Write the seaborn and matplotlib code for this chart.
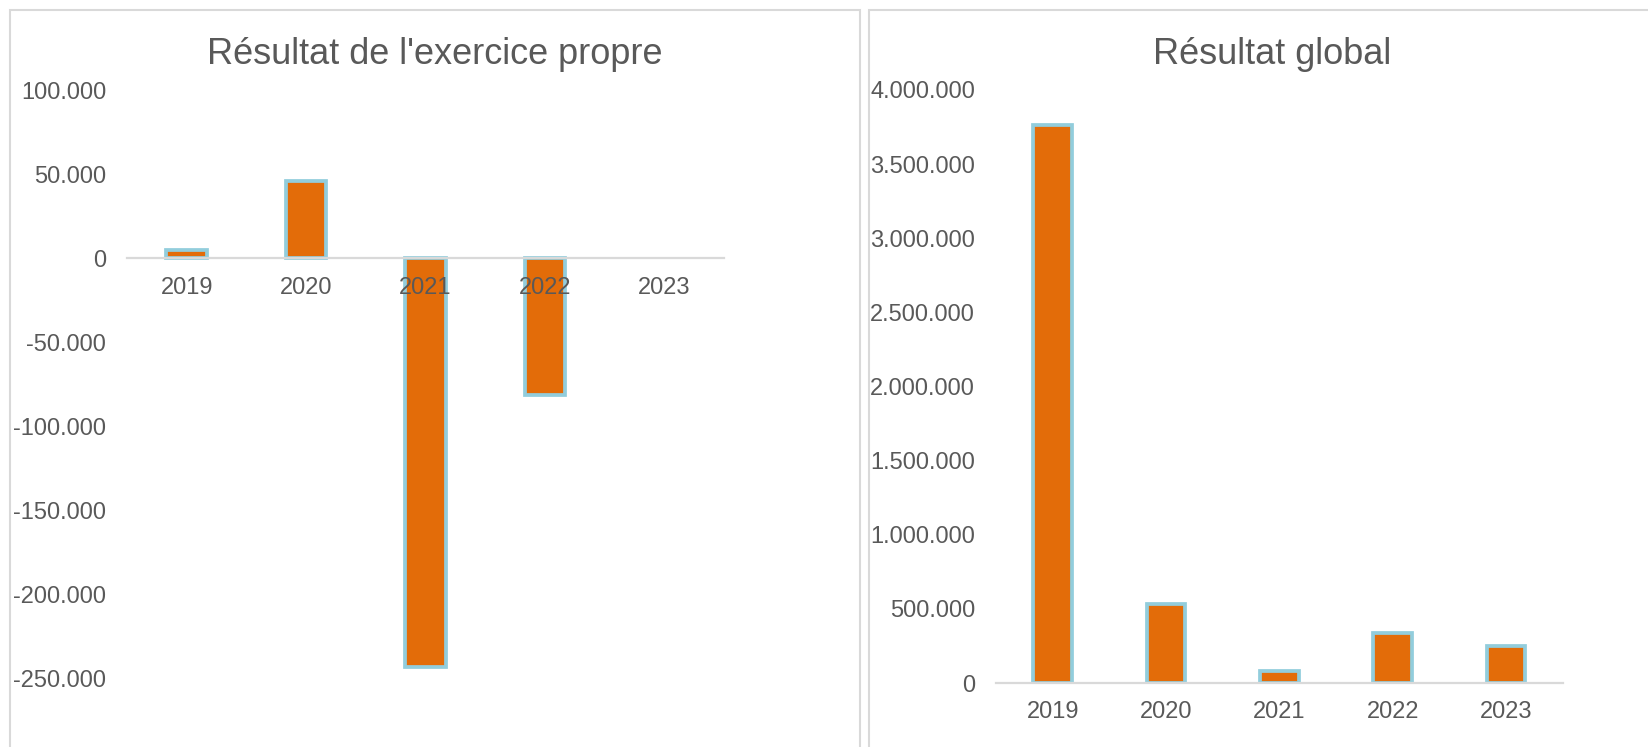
import pandas as pd
import numpy as np
import matplotlib
matplotlib.use("Agg")
import matplotlib.pyplot as plt
from matplotlib.patches import Rectangle
from matplotlib.ticker import FuncFormatter
import seaborn as sns

# Data
years = ["2019", "2020", "2021", "2022", "2023"]
resultat_propre = [5000, 46000, -243000, -81000, np.nan]
resultat_global = [3765000, 530000, 78000, 340000, 250000]

title_left = "Résultat de l'exercice propre"
title_right = "Résultat global"

FILL = "#E36C09"
EDGE = "#92CDDC"
TEXT = "#595959"
GRID = "#D9D9D9"

sns.set_theme(style="white")
plt.rcParams["font.family"] = ["Liberation Sans", "DejaVu Sans"]

W, H = 1649, 747
fig = plt.figure(figsize=(W / 100, H / 100), dpi=100)


def px_axes(x0, x1, y_top, y_bot):
    return fig.add_axes([x0 / W, 1 - y_bot / H, (x1 - x0) / W, (y_bot - y_top) / H])


def thousands(v, pos):
    return f"{int(round(v)):,}".replace(",", ".")


def style(ax):
    for s in ["top", "right", "left"]:
        ax.spines[s].set_visible(False)
    ax.spines["bottom"].set_color(GRID)
    ax.spines["bottom"].set_linewidth(1.6)
    ax.set_axisbelow(False)
    ax.tick_params(axis="both", length=0, labelsize=17, colors=TEXT)
    ax.tick_params(axis="y", pad=15)
    ax.tick_params(axis="x", pad=13)
    ax.yaxis.set_major_formatter(FuncFormatter(thousands))
    ax.set_xlabel("")
    ax.set_ylabel("")
    ax.set_facecolor("none")


# Panel borders
fig.patches.append(Rectangle((10 / W, -0.1), 850 / W, 1.1 - 10 / H, transform=fig.transFigure,
                             fill=False, edgecolor=GRID, linewidth=1.5))
fig.patches.append(Rectangle((869 / W, -0.1), 0.6, 1.1 - 10 / H, transform=fig.transFigure,
                             fill=False, edgecolor=GRID, linewidth=1.5))

# Left chart
df_left = pd.DataFrame({"Année": years, "Valeur": resultat_propre})
ax1 = px_axes(127, 724, 90.5, 762.4)
sns.barplot(data=df_left, x="Année", y="Valeur", order=years, ax=ax1, color=FILL,
            edgecolor=EDGE, linewidth=2.7, width=0.34, errorbar=None, saturation=1)
ax1.set_ylim(-300000, 100000)
ax1.set_yticks(np.arange(-250000, 100001, 50000))
ax1.spines["bottom"].set_position(("data", 0))
style(ax1)

# Right chart
df_right = pd.DataFrame({"Année": years, "Valeur": resultat_global})
ax2 = px_axes(996, 1562.7, 90, 683)
sns.barplot(data=df_right, x="Année", y="Valeur", order=years, ax=ax2, color=FILL,
            edgecolor=EDGE, linewidth=2.7, width=0.34, errorbar=None, saturation=1)
ax2.set_ylim(0, 4000000)
ax2.set_yticks(np.arange(0, 4000001, 500000))
style(ax2)

fig.text(435 / W, 1 - 55 / H, title_left, ha="center", va="center", fontsize=26, color=TEXT)
fig.text(1272 / W, 1 - 55 / H, title_right, ha="center", va="center", fontsize=26, color=TEXT)

fig.savefig("out.png", dpi=100, facecolor="white")
